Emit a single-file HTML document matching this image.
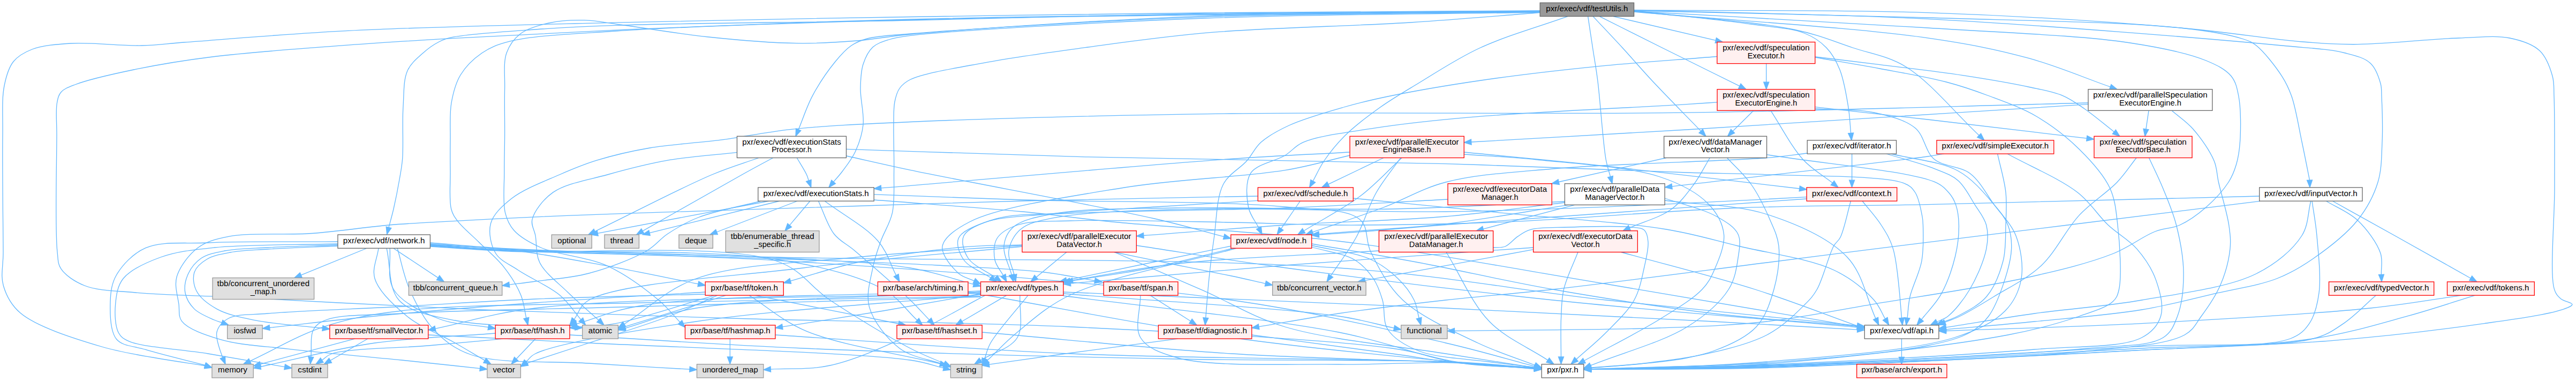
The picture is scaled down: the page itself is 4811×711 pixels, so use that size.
<!DOCTYPE html><html><head><meta charset="utf-8"><style>html,body{margin:0;padding:0;background:#fff;width:4811px;height:711px;overflow:hidden}svg{display:block}text{font-family:"Liberation Sans",sans-serif;font-size:13.9px;fill:#000}</style></head><body>
<svg width="4811" height="711" viewBox="0 0 4811 711">
<g fill="none" stroke="#63b8ff" stroke-width="1.3">
<path d="M3013.0,30.6L3204.4,75.4"/>
<path d="M2987.4,30.6C3026.3,50.1 3063.0,68.6 3104.0,89.0C3149.7,111.7 3200.6,136.8 3248.9,160.7"/>
<path d="M2975.2,30.6C2993.5,50.1 3011.8,69.2 3030.0,89.0C3048.4,109.0 3064.1,127.6 3085.0,150.0C3111.4,178.3 3146.1,213.1 3176.6,244.6"/>
<path d="M2965.7,30.6C2968.6,50.1 2971.5,69.3 2974.5,89.0C2977.5,109.1 2980.6,125.2 2983.8,150.0C2988.8,188.5 2993.6,266.9 2999.3,298.0C3002.0,312.6 3004.8,319.1 3007.6,329.6"/>
<path d="M2927.8,30.6C2873.1,50.2 2812.8,66.8 2763.8,89.5C2720.9,109.3 2681.6,135.8 2648.0,156.0C2621.6,171.9 2600.5,184.0 2578.0,200.0C2555.3,216.1 2530.8,234.5 2512.5,252.5C2496.8,268.0 2483.5,284.6 2473.0,300.0C2464.2,312.9 2459.1,325.2 2452.2,337.9"/>
<path d="M3051.6,20.0C3124.4,28.3 3211.3,36.7 3270.0,45.0C3309.9,50.7 3344.7,52.0 3370.0,62.0C3387.6,68.9 3400.0,77.6 3411.0,89.0C3421.9,100.3 3429.5,113.9 3436.0,130.0C3444.0,149.7 3448.5,178.7 3452.0,200.0C3454.8,217.5 3455.1,232.3 3456.7,248.5"/>
<path d="M3051.6,21.0C3151.1,32.3 3275.4,39.4 3350.0,55.0C3396.2,64.7 3424.3,77.1 3460.0,89.0C3494.3,100.5 3526.3,104.4 3560.0,125.0C3604.7,152.4 3650.8,210.1 3696.2,252.7"/>
<path d="M3051.6,22.0C3234.4,38.3 3465.2,51.5 3600.0,70.9C3679.8,82.4 3729.9,92.5 3789.0,108.7C3843.0,123.5 3890.5,144.4 3941.3,162.2"/>
<path d="M3051.6,20.0C3234.4,24.3 3424.1,27.4 3600.0,33.0C3763.3,38.2 3967.4,40.6 4072.0,52.0C4124.7,57.7 4165.9,65.0 4190.0,73.0C4201.4,76.8 4205.4,78.2 4214.0,85.0C4228.2,96.3 4250.0,124.1 4261.5,141.8C4270.2,155.2 4274.5,164.4 4280.0,180.0C4287.8,202.3 4293.2,237.5 4299.0,264.5C4304.3,289.4 4308.7,312.3 4313.5,336.2"/>
<path d="M2876.2,20.0C2667.5,21.3 2452.0,22.0 2250.0,24.0C2060.7,25.9 1883.3,28.5 1700.0,31.5C1516.7,34.5 1329.0,37.6 1150.0,42.1C979.4,46.4 796.2,50.0 650.0,57.4C535.5,63.2 412.7,74.0 344.0,79.0C309.1,81.6 294.8,84.3 265.0,85.0C226.4,85.9 169.5,78.7 132.0,81.0C104.3,82.7 79.1,84.7 60.0,92.0C45.5,97.6 33.6,104.3 25.0,115.0C15.8,126.5 11.6,142.0 8.0,160.0C3.0,184.9 5.5,214.8 5.0,252.0C4.2,309.2 5.8,419.2 6.0,470.0C6.1,497.3 0.8,513.8 6.3,533.0C11.7,551.7 19.9,568.6 38.0,584.0C68.0,609.5 135.6,630.9 190.0,647.0C248.8,664.4 364.8,678.9 379.5,682.0C381.4,682.4 381.7,682.5 382.8,682.8"/>
<path d="M2876.2,21.0C2667.5,22.8 2452.0,23.9 2250.0,26.5C2060.7,29.0 1883.3,31.1 1700.0,36.0C1516.6,40.9 1306.6,49.3 1150.0,56.1C1033.1,61.2 934.4,66.4 844.0,71.6C772.0,75.8 718.9,79.0 650.0,84.2C571.2,90.2 469.8,96.9 397.0,106.0C341.2,112.9 295.3,120.6 250.0,130.0C210.5,138.2 163.6,148.8 140.0,158.0C127.9,162.7 119.6,165.6 114.0,172.0C109.3,177.4 108.1,183.4 106.5,192.0C103.8,206.5 106.0,225.8 106.0,252.0C105.9,302.0 102.5,430.1 107.0,470.0C108.7,485.4 107.7,492.1 114.0,501.6C122.1,513.8 139.4,525.6 158.0,533.0C182.7,542.8 215.8,542.6 253.0,546.0C305.4,550.8 379.7,551.8 443.0,555.0C506.2,558.2 563.9,561.5 632.5,565.0C714.0,569.1 797.0,573.7 900.0,578.0C1040.8,583.8 1225.7,589.9 1400.0,595.0C1590.9,600.6 1800.1,600.8 2000.0,610.0C2200.1,619.2 2476.8,633.1 2600.0,650.0C2655.6,657.6 2677.9,669.1 2720.0,675.1C2766.0,681.6 2817.2,682.4 2865.7,686.1"/>
<path d="M2876.2,20.5C2667.5,22.1 2452.0,22.1 2250.0,25.2C2060.7,28.1 1883.3,34.3 1700.0,38.0C1516.7,41.7 1275.8,43.0 1150.0,47.3C1084.3,49.5 1050.5,51.3 1000.0,55.0C948.5,58.7 873.1,63.4 844.0,69.7C832.3,72.2 828.1,73.8 820.0,78.0C810.2,83.0 799.4,90.5 790.0,99.0C779.7,108.3 767.3,117.9 761.0,132.0C753.2,149.3 754.6,173.8 753.0,198.0C751.0,227.4 753.7,270.8 751.7,296.0C750.4,312.0 748.4,320.9 746.0,335.0C743.1,351.8 738.7,373.9 735.0,390.0C732.0,402.9 729.0,413.0 726.0,424.4"/>
<path d="M2876.2,21.5C2667.5,23.6 2452.0,25.1 2250.0,27.8C2060.7,30.3 1883.3,32.0 1700.0,37.0C1516.6,42.0 1287.6,48.7 1150.0,58.0C1067.1,63.6 995.0,66.2 951.0,77.4C927.8,83.3 915.1,88.7 900.0,99.0C884.7,109.5 869.5,124.3 860.0,140.0C850.7,155.4 846.3,173.3 843.0,192.0C839.4,212.9 841.3,238.0 841.0,260.0C840.7,280.6 840.7,299.2 841.0,320.0C841.3,342.4 838.4,373.4 842.7,390.0C845.3,400.0 848.7,404.5 854.7,412.6C863.5,424.4 880.3,437.9 894.0,451.5C909.1,466.5 928.0,481.7 941.4,498.8C954.2,515.1 966.1,534.2 973.0,551.3C978.8,565.7 979.6,579.4 982.9,593.5"/>
<path d="M2876.2,22.0C2667.5,24.6 2451.9,22.3 2250.0,29.8C2060.6,36.9 1809.1,54.0 1700.0,64.0C1653.6,68.3 1635.1,73.2 1601.0,76.0C1564.6,79.0 1529.2,81.3 1488.0,80.7C1438.2,80.0 1377.9,74.8 1323.0,69.0C1267.8,63.2 1200.4,51.6 1157.6,46.0C1130.5,42.4 1113.2,38.2 1091.0,37.7C1069.0,37.2 1045.5,38.4 1025.0,43.0C1006.0,47.2 985.5,52.7 972.0,63.0C960.1,72.1 951.2,84.3 946.0,99.0C939.7,117.0 943.2,141.5 942.6,165.0C941.9,192.0 942.8,224.8 942.6,252.0C942.5,276.1 941.7,296.6 941.8,320.0C942.0,345.0 938.7,377.8 943.7,397.7C947.1,411.3 951.2,420.3 960.0,430.0C971.2,442.4 988.7,452.5 1010.0,462.0C1041.5,476.0 1097.2,479.2 1134.7,496.4C1170.0,512.6 1205.8,539.8 1230.0,560.0C1247.2,574.3 1256.7,587.5 1270.1,601.3"/>
<path d="M2876.2,22.5C2667.5,25.5 2451.9,24.4 2250.0,31.6C2060.6,38.4 1801.2,54.4 1700.0,63.0C1661.3,66.3 1640.0,66.7 1620.0,72.0C1607.3,75.4 1599.4,78.6 1590.0,85.0C1579.3,92.3 1570.2,102.5 1560.0,115.0C1546.3,131.7 1529.2,156.8 1517.5,178.6C1506.5,199.2 1500.0,220.8 1491.2,241.8"/>
<path d="M2876.2,23.0C2667.5,26.7 2451.9,26.3 2250.0,34.0C2060.6,41.2 1777.7,56.8 1700.0,66.4C1678.9,69.0 1672.2,70.1 1660.0,74.0C1649.0,77.5 1637.9,80.7 1630.0,88.0C1621.7,95.7 1615.9,108.0 1612.0,120.0C1607.7,133.3 1607.3,148.4 1607.0,165.0C1606.6,185.3 1614.2,212.3 1612.0,233.0C1610.1,251.0 1604.4,267.8 1597.5,282.7C1591.1,296.6 1580.6,309.8 1573.0,320.0C1567.3,327.7 1562.1,332.9 1556.7,339.4"/>
<path d="M2876.2,23.5C2795.5,29.7 2723.5,36.3 2634.0,42.0C2522.9,49.0 2369.8,51.4 2260.0,60.7C2173.0,68.1 2100.3,78.8 2027.0,88.7C1961.2,97.6 1897.6,106.0 1840.0,116.8C1789.8,126.2 1724.9,136.3 1700.0,148.5C1689.4,153.7 1684.8,158.1 1680.0,165.0C1675.1,171.9 1672.9,180.5 1671.0,190.0C1668.7,201.6 1669.3,214.0 1669.0,230.0C1668.5,254.0 1670.1,291.1 1669.6,320.0C1669.1,346.9 1671.4,374.7 1666.4,397.7C1662.1,417.3 1651.1,432.6 1645.0,450.0C1639.1,466.7 1633.5,481.6 1630.0,500.0C1625.8,521.8 1617.0,549.4 1623.5,572.8C1631.0,599.6 1656.1,632.0 1680.0,650.0C1702.9,667.3 1735.2,670.2 1762.7,680.4"/>
<path d="M3051.6,19.0C3234.4,24.5 3408.8,25.4 3600.0,35.4C3810.3,46.4 4130.4,72.3 4261.5,85.0C4317.1,90.4 4349.9,91.3 4380.0,99.0C4399.6,104.0 4415.9,107.7 4427.0,118.0C4437.2,127.4 4442.8,144.5 4446.0,156.0C4448.4,164.7 4447.5,169.6 4448.0,180.0C4448.9,199.6 4450.3,237.2 4449.0,264.5C4447.8,290.4 4448.4,315.9 4441.0,340.0C4433.4,364.8 4420.8,388.8 4403.0,411.0C4382.3,436.9 4347.3,463.8 4320.0,482.7C4297.1,498.6 4278.1,509.9 4252.0,520.0C4220.4,532.2 4181.1,537.7 4142.0,546.7C4097.7,556.9 4051.6,569.5 4000.0,578.0C3939.3,588.0 3863.5,593.7 3800.0,600.0C3742.2,605.8 3689.6,609.9 3634.4,614.8"/>
<path d="M3051.6,21.0C3234.4,31.3 3434.2,41.2 3600.0,52.0C3737.7,61.0 3882.7,65.5 3978.0,80.0C4037.1,89.0 4086.2,99.1 4120.0,113.0C4140.8,121.6 4156.8,129.6 4167.0,142.0C4175.7,152.6 4178.0,164.5 4181.0,180.0C4185.3,202.3 4185.1,241.2 4183.5,264.5C4182.4,281.1 4180.4,294.0 4176.5,307.0C4173.0,318.9 4169.3,328.6 4162.0,340.0C4152.3,355.0 4135.3,373.5 4119.8,387.0C4104.9,400.0 4087.7,412.4 4071.0,420.0C4056.0,426.8 4042.0,425.4 4025.0,432.0C4001.7,441.0 3977.7,460.9 3946.0,473.5C3902.6,490.7 3847.1,504.2 3785.6,518.0C3704.4,536.2 3586.8,552.7 3500.0,567.3C3427.4,579.5 3366.9,592.5 3300.0,600.0C3233.5,607.4 3177.5,609.1 3100.0,612.0C2992.8,616.0 2844.3,615.7 2716.5,617.5"/>
<path d="M3051.6,19.0C3234.4,20.5 3424.1,17.6 3600.0,23.6C3763.3,29.2 3943.1,40.8 4072.0,52.0C4161.8,59.8 4238.8,73.1 4300.0,78.0C4341.0,81.3 4363.5,83.0 4403.0,82.7C4456.5,82.3 4539.7,72.6 4592.0,71.0C4629.0,69.9 4660.0,65.6 4687.0,71.0C4708.6,75.4 4729.6,82.0 4743.0,94.5C4755.6,106.2 4762.7,126.6 4767.0,142.0C4770.6,155.0 4769.3,162.8 4770.0,180.0C4771.5,216.4 4770.9,291.8 4771.0,350.0C4771.1,411.5 4761.5,510.5 4770.4,539.6C4773.4,549.4 4777.1,552.7 4782.5,557.4C4788.2,562.3 4804.0,564.5 4804.0,568.0C4804.0,571.6 4793.2,575.2 4782.5,578.7C4756.3,587.3 4695.8,595.6 4640.0,603.6C4561.6,614.9 4455.9,627.5 4355.7,635.6C4243.9,644.7 4138.4,646.7 4000.0,653.4C3805.8,662.9 3489.8,681.2 3300.0,686.5C3170.1,690.1 3081.0,688.4 2971.5,689.4"/>
<path d="M3298.8,118.6L3298.8,153.2"/>
<path d="M3390.0,106.0C3430.2,110.9 3467.9,115.2 3510.6,120.6C3559.1,126.7 3617.0,133.3 3665.8,140.7C3709.6,147.4 3755.8,155.2 3790.0,162.5C3814.3,167.7 3833.9,170.8 3852.0,178.3C3867.6,184.8 3878.6,193.1 3893.0,203.0C3910.4,214.9 3929.9,231.7 3948.3,246.0"/>
<path d="M3390.0,107.0C3430.2,114.0 3470.2,120.4 3510.6,128.0C3551.7,135.7 3598.5,143.5 3634.8,153.0C3663.8,160.6 3685.4,168.0 3712.0,178.0C3741.3,189.0 3774.6,200.4 3803.0,217.0C3831.8,233.8 3860.2,255.8 3883.5,278.7C3905.5,300.4 3928.2,324.9 3940.0,350.0C3950.5,372.3 3951.9,393.3 3955.0,420.0C3959.0,454.6 3962.9,516.7 3957.4,540.5C3954.9,551.3 3953.1,556.1 3946.0,562.8C3934.3,573.8 3908.9,581.3 3883.8,590.0C3848.0,602.4 3808.2,613.9 3750.0,625.0C3644.6,645.0 3438.4,668.6 3300.0,679.0C3182.1,687.9 3081.0,685.7 2971.5,689.1"/>
<path d="M3206.9,105.5C3130.9,111.8 3053.4,116.7 2978.8,124.3C2906.6,131.6 2833.2,140.1 2766.0,150.0C2705.0,158.9 2639.1,170.2 2592.0,180.0C2559.4,186.8 2538.5,191.7 2509.8,200.0C2477.4,209.3 2435.4,221.2 2407.5,234.0C2386.5,243.7 2368.7,253.4 2355.0,265.6C2343.5,275.9 2339.1,288.2 2328.7,300.0C2316.3,314.2 2294.8,324.3 2284.6,344.0C2271.6,369.0 2272.1,412.0 2267.5,443.0C2263.5,470.2 2260.6,494.6 2258.0,520.0C2255.4,544.7 2253.9,568.8 2251.8,593.1"/>
<path d="M3275.0,206.3L3236.2,244.8"/>
<path d="M4013.0,206.3L4007.9,240.9"/>
<path d="M3899.8,194.7C3649.9,210.5 3361.3,229.3 3150.0,242.0C2995.2,251.3 2881.9,257.4 2747.8,265.0"/>
<path d="M3899.8,192.0C3649.9,198.1 3407.8,206.8 3150.0,210.2C2875.6,213.8 2558.7,208.4 2300.0,212.0C2082.6,215.0 1851.2,220.8 1700.0,227.5C1607.9,231.5 1542.3,234.5 1478.0,241.3C1428.2,246.6 1390.1,255.4 1346.0,261.2C1302.0,267.0 1254.5,269.0 1213.8,276.0C1178.2,282.1 1144.5,290.0 1114.6,299.2C1089.1,307.1 1069.4,315.3 1045.0,326.0C1016.7,338.4 977.8,352.8 955.4,370.5C937.9,384.3 921.3,399.6 916.5,417.0C911.9,433.7 916.7,457.9 925.6,472.5C934.2,486.6 951.1,492.9 967.6,504.0C989.4,518.7 1025.4,533.9 1046.0,551.3C1062.6,565.3 1071.9,581.4 1084.9,596.4"/>
<path d="M4056.0,206.3C4069.3,217.9 4083.6,226.9 4096.0,241.0C4110.3,257.3 4127.3,281.5 4135.0,300.0C4140.9,314.0 4139.9,324.4 4143.4,340.0C4148.4,362.1 4159.4,397.1 4162.7,420.0C4165.1,436.9 4166.6,448.4 4164.9,464.6C4162.8,484.8 4156.0,510.6 4147.0,531.6C4138.1,552.4 4123.6,573.5 4111.3,590.0C4101.1,603.7 4097.2,615.6 4080.0,625.0C4046.2,643.6 3977.9,646.8 3900.0,655.0C3758.8,670.0 3470.1,676.9 3300.0,682.5C3174.2,686.7 3081.0,687.0 2971.5,689.2"/>
<path d="M1488.3,294.5C1494.4,305.0 1502.9,318.1 1506.5,326.0C1508.6,330.5 1509.1,333.3 1510.3,337.0"/>
<path d="M1417.0,294.5C1387.9,305.0 1364.8,311.2 1329.6,326.0C1272.7,350.0 1184.0,396.6 1111.1,431.9"/>
<path d="M1443.7,294.5C1424.4,305.0 1410.5,312.3 1385.8,326.0C1341.4,350.7 1262.1,396.1 1200.2,431.1"/>
<path d="M1376.5,284.3C1333.3,289.3 1288.4,291.9 1247.0,299.2C1207.9,306.1 1170.8,315.8 1134.4,326.0C1099.5,335.8 1057.2,341.8 1033.0,358.9C1014.3,372.1 997.7,393.9 994.0,409.4C991.4,420.2 998.0,428.5 1000.0,440.0C1002.6,454.6 1000.2,474.1 1008.0,490.0C1017.6,509.5 1041.8,527.2 1060.0,545.0C1078.5,563.1 1098.7,580.0 1118.0,597.5"/>
<path d="M1437.0,375.0L1116.3,435.3"/>
<path d="M1456.6,375.0L1213.1,434.6"/>
<path d="M1489.6,375.0L1338.6,433.0"/>
<path d="M1513.0,375.0L1474.7,420.4"/>
<path d="M1421.6,375.0C1382.7,385.2 1336.6,393.1 1305.0,405.5C1281.6,414.6 1263.8,425.2 1246.8,436.5C1232.0,446.3 1225.2,458.0 1208.0,468.0C1181.8,483.2 1135.8,500.5 1100.0,510.0C1066.5,518.9 1027.4,521.2 1000.0,525.0C980.9,527.7 967.5,529.2 951.2,531.3"/>
<path d="M3207.0,190.8C3188.0,192.1 3177.6,192.9 3150.0,194.7C3076.9,199.4 2857.8,209.1 2750.0,218.4C2676.5,224.7 2621.2,230.6 2565.0,239.4C2517.3,246.8 2462.3,253.1 2433.7,265.6C2417.8,272.6 2413.4,281.8 2400.0,290.0C2382.4,300.8 2347.1,305.9 2336.0,322.8C2325.5,338.8 2328.0,368.8 2331.7,387.0C2334.7,401.9 2344.5,412.6 2351.0,425.4"/>
<path d="M2584.0,294.5L2480.8,343.9"/>
<path d="M2428.0,375.5L2392.7,426.7"/>
<path d="M2618.0,294.5C2592.3,318.2 2569.9,343.7 2541.0,365.6C2509.5,389.4 2470.4,409.0 2435.1,430.7"/>
<path d="M2616.0,294.5C2600.7,316.3 2583.5,336.2 2570.0,360.0C2555.6,385.4 2547.2,416.9 2532.8,443.0C2518.9,468.3 2501.2,490.7 2485.5,514.5"/>
<path d="M3375.3,286.0C3350.2,288.8 3335.1,291.6 3300.0,294.5C3219.4,301.1 3010.3,305.3 2900.0,315.0C2821.7,321.9 2756.8,325.2 2700.0,340.0C2655.2,351.7 2624.1,371.9 2584.0,387.0C2541.5,403.0 2495.6,417.9 2451.4,433.3"/>
<path d="M2930.0,382.4C2853.3,394.3 2768.6,410.0 2700.0,418.0C2644.8,424.5 2593.2,426.5 2550.0,430.0C2517.1,432.6 2492.1,434.6 2463.2,436.9"/>
<path d="M2922.4,378.0C2848.3,386.7 2779.8,397.2 2700.0,404.0C2607.6,411.9 2496.8,413.8 2400.0,420.0C2309.1,425.8 2223.9,433.0 2135.9,439.5"/>
<path d="M1581.0,291.0C1620.7,299.8 1647.4,306.3 1700.0,317.4C1802.7,339.0 2050.5,383.9 2156.0,408.0C2212.6,421.0 2242.5,430.4 2285.7,441.6"/>
<path d="M2520.5,284.0C2447.0,288.2 2393.0,290.0 2300.0,296.5C2139.7,307.7 1863.8,332.8 1645.7,350.9"/>
<path d="M2350.0,366.0C2203.5,369.0 2044.3,371.6 1910.5,375.0C1798.0,377.9 1710.8,381.0 1600.0,384.5C1472.5,388.5 1299.2,393.8 1188.5,397.7C1113.6,400.3 1063.8,401.9 1000.0,404.8C934.3,407.7 850.4,412.3 800.0,415.2C769.3,417.0 754.7,417.5 726.0,420.0C686.0,423.5 631.6,431.9 582.8,435.5C532.0,439.2 465.9,433.7 427.0,441.4C402.5,446.2 385.0,450.6 369.0,462.7C352.4,475.3 335.3,498.2 330.0,517.0C325.4,533.5 332.1,553.1 334.0,568.0C335.5,579.8 332.6,590.4 339.7,599.6C350.8,614.1 383.1,625.0 411.0,633.4C446.6,644.1 490.2,645.5 538.0,651.2C599.6,658.5 685.9,665.4 750.0,672.0C803.3,677.5 847.7,682.4 896.5,687.6"/>
<path d="M1632.2,362.8C1724.8,366.2 1804.3,369.7 1910.0,373.0C2050.3,377.4 2286.5,374.8 2400.0,386.0C2461.1,392.0 2515.3,388.8 2540.0,410.0C2556.5,424.1 2549.6,448.7 2560.0,470.0C2573.6,497.8 2591.8,533.7 2620.0,560.0C2654.4,592.1 2715.8,618.9 2760.0,640.0C2797.3,657.8 2831.1,667.7 2866.6,681.5"/>
<path d="M1632.2,373.0C1724.8,380.3 1829.0,387.2 1910.0,395.0C1973.1,401.1 2009.3,407.2 2078.0,414.0C2186.8,424.8 2353.7,432.1 2500.0,450.0C2660.0,469.6 2836.1,502.9 3000.0,530.0C3158.9,556.2 3312.7,583.2 3469.0,609.7"/>
<path d="M2521.0,290.0C2480.7,299.2 2449.6,309.4 2400.0,317.7C2322.6,330.7 2198.6,333.8 2100.0,350.0C2002.3,366.0 1866.1,385.6 1811.0,414.0C1784.4,427.7 1762.5,443.2 1760.0,460.0C1757.7,475.4 1778.2,499.3 1790.0,510.0C1798.8,518.0 1809.6,519.4 1819.3,524.1"/>
<path d="M3112.0,294.5L2911.2,339.5"/>
<path d="M3193.4,294.5C3183.4,311.0 3175.2,328.3 3163.5,344.0C3151.2,360.5 3138.7,378.0 3120.7,391.0C3099.9,406.0 3069.1,413.8 3043.3,425.2"/>
<path d="M3225.5,294.5C3240.5,311.0 3257.5,325.5 3270.5,344.0C3284.1,363.2 3295.8,387.5 3304.7,408.0C3312.3,425.6 3319.9,439.8 3322.0,459.0C3324.6,482.6 3320.2,514.5 3313.0,540.0C3306.0,564.8 3297.5,591.2 3280.0,610.0C3261.0,630.4 3230.4,644.0 3200.0,655.0C3165.0,667.7 3119.1,671.7 3080.0,677.0C3043.0,682.0 3007.6,683.5 2971.4,686.8"/>
<path d="M3458.7,286.8L3458.7,336.2"/>
<path d="M3631.0,286.8C3620.7,288.5 3616.5,289.6 3600.0,292.0C3535.4,301.2 3281.7,329.3 3122.6,347.9"/>
<path d="M2734.3,284.0C2822.9,292.7 2904.7,299.8 3000.0,310.0C3111.1,321.9 3240.5,338.0 3360.8,352.0"/>
<path d="M3307.0,206.3C3327.2,236.9 3345.9,274.4 3367.6,298.0C3384.9,316.8 3404.1,326.9 3422.4,341.3"/>
<path d="M3456.6,375.0C3450.1,397.7 3444.3,428.6 3437.0,443.0C3433.1,450.7 3429.1,451.2 3424.7,459.0C3415.6,475.2 3404.7,520.6 3393.5,540.0C3386.3,552.5 3381.3,557.7 3371.0,568.0C3354.5,584.5 3330.0,609.5 3300.0,625.0C3260.8,645.3 3195.3,658.9 3150.0,668.0C3113.6,675.3 3081.4,676.9 3050.0,680.0C3022.3,682.7 2997.6,684.0 2971.5,686.0"/>
<path d="M3109.2,370.0C3141.5,381.3 3181.6,390.2 3206.0,404.0C3223.3,413.8 3239.6,423.4 3246.0,437.0C3251.9,449.6 3248.3,465.9 3246.0,481.6C3243.3,499.9 3240.3,521.2 3228.4,540.0C3212.9,564.5 3184.5,589.1 3151.0,610.0C3105.2,638.5 3030.7,658.0 2970.5,682.0"/>
<path d="M2941.0,382.4L2770.1,427.3"/>
<path d="M3478.0,375.0C3489.8,390.0 3503.6,404.5 3513.4,420.0C3522.6,434.4 3529.9,445.3 3535.7,464.6C3545.0,495.3 3550.0,578.5 3551.3,590.0C3551.5,591.8 3551.5,592.1 3551.6,593.2"/>
<path d="M1581.0,278.4C1730.0,283.2 1863.9,288.6 2028.0,292.8C2229.2,298.0 2498.4,300.1 2700.0,305.7C2865.0,310.3 3040.2,318.6 3150.0,322.0C3213.4,324.0 3243.5,323.4 3300.0,325.8C3373.7,329.0 3516.5,326.9 3554.4,341.4C3567.1,346.2 3571.0,350.6 3576.7,359.0C3584.0,369.8 3587.8,392.7 3590.0,404.0C3591.3,410.6 3591.3,412.8 3591.5,420.0C3591.9,434.7 3593.0,464.9 3589.0,487.0C3584.9,509.6 3571.3,534.9 3567.0,554.0C3563.9,567.7 3563.3,584.5 3562.5,590.0C3562.3,591.7 3562.2,592.2 3562.0,593.3"/>
<path d="M3299.6,288.6C3403.9,305.5 3565.6,319.2 3612.4,339.2C3627.9,345.8 3633.1,352.2 3640.0,360.0C3645.8,366.6 3649.5,373.0 3652.5,381.6C3656.3,392.3 3658.1,405.9 3658.4,420.0C3658.7,437.3 3656.5,458.0 3651.7,478.0C3646.2,500.9 3636.0,529.6 3625.0,549.4C3616.0,565.6 3599.7,582.4 3593.7,590.0C3591.3,593.0 3590.3,594.1 3588.6,596.2"/>
<path d="M3523.0,287.0C3552.8,296.2 3588.1,304.8 3612.4,314.6C3630.2,321.8 3644.6,326.2 3657.0,337.0C3670.0,348.3 3678.9,367.1 3688.0,381.6C3696.2,394.7 3706.1,406.2 3709.7,420.0C3713.3,433.9 3713.0,448.1 3709.7,464.6C3705.3,486.9 3691.5,518.7 3678.5,540.5C3667.1,559.7 3650.5,580.2 3638.3,590.0C3630.9,595.9 3624.4,597.0 3617.5,600.5"/>
<path d="M3730.6,286.8C3735.7,310.9 3743.6,335.8 3746.0,359.0C3748.2,380.1 3746.8,399.2 3746.0,420.0C3745.2,441.8 3746.7,465.2 3741.0,487.0C3735.0,509.9 3724.6,536.6 3709.7,554.0C3695.7,570.3 3671.3,581.8 3656.0,590.0C3645.6,595.6 3637.5,597.6 3628.3,601.4"/>
<path d="M3532.0,287.0C3573.7,297.7 3623.6,300.7 3657.0,319.0C3685.2,334.4 3707.6,362.4 3724.0,381.6C3735.7,395.2 3744.6,406.1 3750.0,420.0C3755.4,433.8 3757.3,448.3 3756.6,464.6C3755.8,484.7 3748.3,510.4 3741.0,531.6C3734.0,552.1 3725.4,574.6 3714.0,590.0C3704.4,602.9 3694.8,611.6 3680.0,620.0C3659.8,631.4 3635.7,637.6 3600.0,645.0C3532.4,659.0 3402.4,669.7 3300.0,677.0C3193.1,684.6 3081.0,685.0 2971.5,689.0"/>
<path d="M3748.5,286.8C3792.3,310.9 3846.6,333.1 3880.0,359.0C3904.9,378.3 3917.9,401.8 3937.3,420.0C3955.0,436.6 3976.1,447.4 3991.0,464.6C4005.7,481.6 4019.1,501.7 4026.5,522.6C4033.9,543.5 4041.2,571.5 4035.5,590.0C4030.5,606.4 4019.5,619.9 4000.0,630.0C3962.2,649.6 3881.8,645.2 3800.0,652.0C3671.0,662.8 3449.3,674.3 3300.0,680.5C3179.1,685.5 3081.0,686.3 2971.5,689.1"/>
<path d="M4013.5,294.5C4022.0,313.0 4030.9,330.3 4039.0,350.0C4048.0,371.8 4058.1,394.9 4064.5,420.0C4071.5,447.6 4077.8,480.0 4078.0,509.0C4078.2,536.6 4074.9,568.4 4066.7,590.0C4060.4,606.5 4055.6,620.1 4040.0,630.0C4013.2,646.9 3963.1,643.8 3900.0,650.0C3769.9,662.7 3470.1,675.0 3300.0,681.5C3174.2,686.3 3081.0,686.6 2971.5,689.2"/>
<path d="M3990.0,294.5C3978.0,309.7 3968.9,324.4 3954.0,340.0C3935.1,359.8 3905.9,377.4 3883.5,401.4C3858.3,428.4 3839.7,470.1 3812.0,495.9C3785.8,520.4 3750.3,537.3 3723.0,554.0C3700.6,567.8 3677.5,581.7 3660.6,590.0C3649.6,595.4 3641.9,597.7 3632.5,601.5"/>
<path d="M4315.8,375.0C4310.1,396.7 4311.7,419.8 4298.8,440.0C4282.2,466.0 4251.1,492.3 4213.4,511.0C4160.5,537.2 4070.3,547.6 4000.0,560.0C3932.6,571.9 3863.5,576.1 3800.0,585.0C3742.1,593.1 3689.6,602.3 3634.3,610.9"/>
<path d="M4318.0,375.0C4321.0,396.7 4324.9,415.6 4327.0,440.0C4329.7,471.1 4335.0,517.0 4331.0,546.7C4328.0,568.9 4323.0,589.0 4313.0,603.6C4304.2,616.4 4296.6,624.7 4277.4,632.0C4229.9,650.0 4113.5,640.4 4000.0,646.3C3819.7,655.7 3489.8,676.8 3300.0,683.5C3170.1,688.1 3081.0,687.3 2971.5,689.3"/>
<path d="M4344.0,375.0C4363.7,387.0 4386.2,395.3 4403.0,411.0C4420.4,427.4 4439.3,453.1 4445.8,472.3C4450.5,486.3 4446.9,499.0 4447.4,512.3"/>
<path d="M4356.0,375.0C4395.0,396.7 4432.2,417.2 4473.0,440.0C4517.9,465.1 4567.2,492.8 4614.2,519.2"/>
<path d="M4622.5,551.1C4581.0,563.9 4543.4,577.0 4498.0,589.4C4444.2,604.1 4388.5,621.6 4320.0,632.0C4229.4,645.8 4127.3,646.2 4000.0,653.4C3811.8,664.0 3489.8,680.0 3300.0,685.5C3170.1,689.2 3081.0,688.1 2971.5,689.3"/>
<path d="M4597.6,551.1C4540.7,559.1 4496.8,567.8 4427.0,575.0C4316.9,586.4 4136.9,596.4 4000.0,603.6C3873.5,610.2 3756.3,612.9 3634.5,617.5"/>
<path d="M4437.5,551.1C4417.3,568.6 4397.8,589.7 4377.0,603.6C4358.5,616.0 4347.8,624.6 4320.0,632.0C4257.6,648.5 4127.3,643.3 4000.0,650.0C3811.8,659.9 3489.8,678.4 3300.0,684.5C3170.1,688.7 3081.0,687.7 2971.5,689.3"/>
<path d="M4220.0,366.0C4013.3,371.2 3777.9,377.8 3600.0,381.6C3465.6,384.5 3370.8,383.2 3246.0,388.0C3105.9,393.4 2934.0,409.4 2800.0,414.6C2690.2,418.9 2589.9,420.3 2500.0,420.0C2426.6,419.7 2373.4,416.3 2300.0,415.0C2210.1,413.4 2073.2,409.4 2000.0,412.0C1957.7,413.5 1924.7,411.5 1900.0,420.0C1883.4,425.7 1868.9,433.7 1862.0,445.0C1855.5,455.7 1855.6,473.1 1858.0,485.0C1860.2,495.8 1868.4,504.3 1873.6,513.9"/>
<path d="M4221.0,375.4C4101.1,390.3 3981.4,405.2 3861.4,420.0C3741.1,434.9 3602.8,451.7 3500.0,464.6C3423.5,474.2 3378.1,480.2 3300.0,490.0C3189.5,503.9 3010.5,527.6 2900.0,540.0C2822.0,548.8 2766.6,552.5 2700.0,560.0C2633.3,567.5 2561.7,576.0 2500.0,585.0C2446.6,592.8 2400.7,601.5 2351.1,609.8"/>
<path d="M3551.5,632.2L3551.5,666.5"/>
<path d="M1991.9,470.5L1935.4,517.2"/>
<path d="M2081.0,470.5C2120.7,478.7 2162.0,487.3 2200.0,495.0C2234.8,502.1 2270.5,508.8 2300.0,515.0C2323.6,520.0 2342.3,524.4 2363.4,529.1"/>
<path d="M2081.0,470.5C2136.0,494.2 2192.0,518.0 2246.0,541.6C2298.3,564.5 2338.8,591.6 2400.0,610.0C2482.2,634.7 2614.7,646.2 2700.0,660.0C2763.4,670.2 2810.6,677.3 2865.9,685.9"/>
<path d="M2122.4,458.0C2208.3,471.0 2279.1,483.3 2380.0,497.0C2523.1,516.5 2722.6,541.3 2900.0,560.0C3085.2,579.5 3279.2,593.9 3468.9,610.8"/>
<path d="M2299.8,459.0C2249.9,469.3 2200.6,479.5 2150.0,490.0C2098.0,500.8 2044.5,512.0 1991.7,523.0"/>
<path d="M2304.0,463.0C2252.7,475.3 2200.9,489.8 2150.0,500.0C2100.7,509.9 2052.2,515.9 2003.3,523.8"/>
<path d="M2310.0,463.0C2206.7,492.0 2072.9,515.5 2000.0,550.0C1955.1,571.2 1927.9,597.3 1900.0,620.0C1877.8,638.0 1862.6,655.2 1843.8,672.8"/>
<path d="M2449.7,458.0C2486.0,466.5 2529.8,470.7 2558.6,483.5C2580.4,493.2 2596.8,506.3 2611.0,520.0C2623.6,532.1 2634.5,546.6 2641.0,560.0C2646.5,571.2 2647.1,582.4 2650.2,593.6"/>
<path d="M2449.7,455.0C2516.5,466.7 2579.6,476.8 2650.0,490.0C2728.8,504.8 2812.7,524.7 2900.0,540.0C2995.3,556.7 3102.6,573.4 3200.0,585.0C3291.9,596.0 3379.2,600.9 3468.9,608.8"/>
<path d="M2449.7,461.0C2476.5,469.0 2509.8,472.9 2530.0,485.0C2545.5,494.3 2556.2,507.0 2565.0,520.0C2573.2,532.2 2577.6,545.3 2582.0,560.0C2587.0,576.6 2582.1,599.7 2592.0,615.0C2603.1,632.2 2625.4,645.2 2650.0,655.0C2683.6,668.3 2741.1,669.7 2780.0,675.0C2811.5,679.3 2837.2,681.9 2865.8,685.4"/>
<path d="M2575.4,468.0C2450.3,476.0 2305.6,480.3 2200.0,492.0C2122.2,500.6 2065.6,513.3 1998.3,523.9"/>
<path d="M2701.0,470.5C2727.9,513.7 2748.4,565.8 2781.7,600.0C2812.5,631.7 2854.4,648.0 2890.7,672.1"/>
<path d="M2863.7,465.7L2549.3,523.4"/>
<path d="M2863.7,462.0C2709.1,473.0 2548.9,483.4 2400.0,495.0C2261.6,505.8 2133.0,517.6 1999.5,528.9"/>
<path d="M2947.0,470.5C2938.2,493.7 2925.6,517.8 2920.5,540.0C2916.1,559.1 2916.4,575.5 2915.5,595.0C2914.5,617.1 2915.5,642.3 2915.5,666.0"/>
<path d="M3027.6,470.5C3110.9,493.7 3200.1,515.5 3277.5,540.0C3346.1,561.8 3405.6,585.6 3469.6,608.5"/>
<path d="M2148.0,551.1L2223.6,599.3"/>
<path d="M2130.0,551.1C2130.0,577.4 2118.4,610.5 2130.0,630.0C2141.6,649.6 2167.1,658.9 2200.0,668.0C2263.9,685.6 2407.7,678.8 2500.0,680.0C2579.0,681.0 2654.2,674.9 2720.0,676.9C2773.6,678.5 2817.2,684.2 2865.7,687.9"/>
<path d="M1880.0,551.1L1796.7,599.8"/>
<path d="M1905.0,551.1C1903.3,577.4 1912.1,609.8 1900.0,630.0C1887.8,650.4 1854.3,658.3 1831.5,672.4"/>
<path d="M1986.0,548.0C2157.3,562.0 2394.1,574.4 2500.0,590.0C2548.0,597.1 2569.1,604.8 2603.6,612.2"/>
<path d="M1986.0,552.0C2157.3,574.7 2365.1,593.9 2500.0,620.0C2589.3,637.3 2653.8,665.4 2720.0,676.3C2773.1,685.0 2817.2,683.6 2865.7,687.3"/>
<path d="M1986.0,545.0C2224.0,555.0 2483.2,565.0 2700.0,575.0C2881.5,583.3 3059.0,592.5 3200.0,600.0C3303.4,605.5 3379.2,610.2 3468.8,615.2"/>
<path d="M2200.0,632.2C2130.0,641.5 2053.2,651.4 1990.0,660.0C1937.9,667.1 1894.9,673.4 1847.4,680.1"/>
<path d="M2337.8,625.0C2425.2,636.7 2529.5,650.3 2600.0,660.0C2647.7,666.5 2678.0,672.4 2720.0,676.9C2766.1,681.9 2817.2,684.2 2865.7,687.9"/>
<path d="M1834.2,620.0C1989.5,633.3 2148.6,650.4 2300.0,660.0C2443.5,669.1 2616.2,671.3 2720.0,677.4C2781.2,681.0 2817.2,684.7 2865.7,688.4"/>
<path d="M1808.0,545.0C1972.0,573.3 2142.1,607.8 2300.0,630.0C2445.2,650.4 2616.1,666.1 2720.0,675.7C2781.1,681.3 2817.2,683.0 2865.7,686.7"/>
<path d="M1540.0,375.0C1573.3,400.0 1617.2,423.3 1640.0,450.0C1657.3,470.3 1662.5,492.6 1673.7,513.9"/>
<path d="M631.3,451.0C550.4,451.7 454.7,450.0 388.5,453.0C342.6,455.1 301.9,449.5 272.0,462.7C248.2,473.2 228.4,494.5 217.6,513.0C208.6,528.4 206.6,544.9 206.0,563.0C205.3,584.3 205.2,618.2 217.6,633.0C228.8,646.4 250.5,645.8 272.0,652.4C302.3,661.8 346.1,671.8 383.2,681.5"/>
<path d="M631.3,455.0C554.2,457.3 461.0,455.6 400.0,462.0C359.6,466.2 329.6,469.3 300.0,480.0C273.7,489.6 243.7,502.8 230.0,520.0C219.2,533.6 217.1,551.4 215.6,568.0C214.0,585.1 215.0,609.3 221.4,621.0C225.8,629.1 230.4,632.1 240.9,636.8C266.5,648.2 339.7,652.0 388.5,660.0C436.6,667.9 484.0,676.5 531.7,684.7"/>
<path d="M631.3,457.0C587.5,458.7 538.4,459.8 500.0,462.0C470.0,463.7 442.6,463.7 420.0,468.0C402.8,471.3 387.4,473.9 375.6,482.0C364.6,489.6 355.2,502.2 350.4,513.6C346.0,524.0 343.9,536.5 346.0,547.0C348.1,557.5 354.8,568.5 363.0,576.6C372.2,585.6 390.4,592.7 400.0,597.0C405.7,599.6 409.5,600.4 414.3,602.1"/>
<path d="M631.3,459.0C587.5,461.0 536.9,462.6 500.0,465.0C473.0,466.8 450.5,467.1 430.0,471.0C413.5,474.1 397.6,476.9 386.0,484.0C376.1,490.0 366.3,498.4 363.0,508.0C359.7,517.9 361.5,532.4 367.0,543.0C373.6,555.7 389.2,567.8 405.0,576.6C424.1,587.2 448.7,592.0 476.0,597.6C511.8,604.9 560.3,607.5 602.4,612.4"/>
<path d="M685.7,463.0L562.2,513.4"/>
<path d="M734.3,463.0L818.1,518.4"/>
<path d="M707.0,463.0C704.7,482.0 694.3,501.3 700.0,520.0C707.2,543.7 735.9,570.3 760.0,590.0C785.4,610.8 823.7,625.0 850.0,640.0C870.8,651.9 886.9,661.8 905.4,672.6"/>
<path d="M722.0,463.0C729.7,495.3 725.0,537.6 745.0,560.0C766.2,583.7 807.7,589.3 850.0,598.0C910.0,610.4 999.5,606.8 1074.2,611.2"/>
<path d="M803.4,456.7C852.3,459.8 898.5,460.1 950.0,466.0C1008.2,472.6 1074.6,485.5 1134.7,496.4C1192.4,506.9 1247.5,518.7 1304.0,529.9"/>
<path d="M803.4,455.0C852.3,458.3 886.6,461.8 950.0,465.0C1067.1,470.9 1312.0,473.6 1450.0,481.0C1547.7,486.3 1632.5,488.8 1700.0,500.0C1747.2,507.8 1779.0,520.4 1818.4,530.6"/>
<path d="M803.4,458.0C852.3,461.0 886.6,464.0 950.0,467.0C1067.1,472.6 1321.8,464.2 1450.0,484.0C1532.6,496.8 1604.0,514.5 1650.0,540.0C1679.4,556.3 1691.9,578.3 1712.8,597.5"/>
<path d="M803.4,460.0C852.3,463.0 886.6,465.9 950.0,469.0C1067.1,474.7 1349.9,452.3 1450.0,487.0C1499.8,504.2 1512.7,535.3 1550.0,560.0C1594.4,589.4 1660.0,629.2 1700.0,650.0C1725.2,663.2 1742.5,669.0 1763.7,678.5"/>
<path d="M803.4,453.0C852.3,456.7 886.6,460.6 950.0,464.0C1067.0,470.3 1252.7,475.0 1450.0,480.0C1735.8,487.3 2214.6,480.2 2500.0,500.0C2697.6,513.7 2835.9,541.8 3000.0,560.0C3158.7,577.6 3312.6,591.8 3468.9,607.6"/>
<path d="M803.4,459.0C852.3,462.0 886.6,464.9 950.0,468.0C1067.1,473.7 1261.5,474.4 1450.0,486.0C1696.1,501.1 2070.2,527.1 2300.0,560.0C2458.9,582.7 2595.8,615.9 2700.0,640.0C2767.6,655.6 2810.8,669.1 2866.1,683.7"/>
<path d="M1528.4,375.0C1538.1,395.5 1545.0,420.4 1557.6,436.5C1568.4,450.3 1580.5,454.5 1596.4,468.0C1622.8,490.4 1674.8,535.8 1700.0,560.0C1715.3,574.7 1723.7,584.6 1735.6,596.9"/>
<path d="M1909.0,456.8C1872.7,458.2 1841.7,457.2 1800.0,461.0C1743.3,466.2 1658.4,477.7 1600.0,490.0C1553.5,499.8 1517.5,512.9 1476.3,524.4"/>
<path d="M1335.0,551.1C1273.3,568.6 1197.8,594.6 1150.0,603.6C1120.6,609.2 1101.6,608.3 1077.4,610.7"/>
<path d="M1356.0,551.1L1167.3,609.6"/>
<path d="M1399.0,551.1C1434.6,573.3 1460.8,598.9 1505.7,617.8C1570.0,644.9 1672.5,658.5 1755.9,678.8"/>
<path d="M1410.0,551.1L1678.3,604.0"/>
<path d="M1340.0,551.1C1310.0,564.1 1284.1,577.0 1250.0,590.0C1206.7,606.6 1146.8,624.6 1100.0,640.0C1059.0,653.5 1022.9,665.1 984.3,677.7"/>
<path d="M1363.4,632.2L1363.4,666.0"/>
<path d="M1831.5,548.0C1771.0,558.7 1711.1,569.8 1650.0,580.0C1587.8,590.4 1524.2,599.9 1461.3,609.9"/>
<path d="M1840.0,551.1C1793.3,575.7 1748.2,603.2 1700.0,625.0C1651.5,646.9 1596.9,671.8 1550.0,682.0C1511.0,690.5 1476.2,686.8 1439.3,689.1"/>
<path d="M1831.5,545.0C1654.3,555.0 1417.3,555.4 1300.0,575.0C1240.3,585.0 1211.7,599.9 1167.5,612.3"/>
<path d="M1831.5,543.0C1621.0,552.0 1328.2,549.6 1200.0,570.0C1142.4,579.2 1118.0,592.9 1077.0,604.4"/>
<path d="M1831.5,547.0C1554.3,556.3 1177.7,554.0 1000.0,575.0C914.9,585.1 875.4,600.5 813.0,613.3"/>
<path d="M1831.5,550.0C1654.3,566.7 1451.5,577.8 1300.0,600.0C1185.3,616.8 1038.1,641.3 1000.0,660.0C989.5,665.1 988.4,670.1 982.6,675.1"/>
<path d="M1920.0,551.1C1896.7,580.7 1862.7,617.6 1850.0,640.0C1843.3,651.8 1842.6,659.6 1838.9,669.4"/>
<path d="M1000.0,632.2L964.3,669.7"/>
<path d="M662.8,632.2L486.3,679.5"/>
<path d="M686.6,632.2L617.0,672.7"/>
<path d="M1064.0,625.0C1209.3,633.3 1337.5,643.0 1500.0,650.0C1705.8,658.8 1984.0,665.7 2200.0,670.0C2386.2,673.7 2600.1,670.5 2720.0,675.7C2783.6,678.4 2817.2,683.0 2865.7,686.7"/>
<path d="M1448.0,625.0C1632.0,636.7 1803.7,651.6 2000.0,660.0C2224.0,669.6 2571.1,669.0 2720.0,676.3C2787.1,679.6 2817.2,683.6 2865.7,687.3"/>
<path d="M799.8,625.0C899.9,630.0 982.8,633.9 1100.0,640.0C1265.7,648.6 1602.8,657.9 1700.0,672.0C1731.7,676.6 1741.5,681.9 1762.3,686.9"/>
<path d="M925.2,622.0C850.1,628.0 773.7,629.5 700.0,640.0C627.6,650.4 557.7,669.5 486.5,684.3"/>
<path d="M940.0,632.2C893.3,636.5 849.6,640.7 800.0,645.0C743.8,649.9 648.7,650.2 620.0,660.0C609.9,663.5 607.5,668.1 601.3,672.1"/>
<path d="M2349.3,374.3C2285.9,378.2 2223.9,381.8 2159.0,386.0C2091.0,390.4 2008.7,394.1 1950.0,400.0C1907.1,404.3 1867.7,404.8 1839.0,415.0C1818.4,422.3 1795.4,431.9 1790.0,445.0C1785.5,456.1 1791.9,473.5 1800.0,485.0C1809.8,498.9 1833.5,507.2 1850.3,518.3"/>
<path d="M2704.0,372.0C2602.7,377.3 2508.3,383.8 2400.0,388.0C2275.8,392.8 2098.7,393.2 2000.0,398.0C1941.8,400.8 1897.6,397.8 1861.5,408.0C1836.0,415.2 1807.1,425.4 1800.0,440.0C1794.5,451.4 1800.2,469.4 1808.0,481.5C1817.5,496.3 1842.3,505.8 1859.5,518.0"/>
<path d="M2922.4,376.0C2814.9,380.7 2713.5,387.8 2600.0,390.0C2472.9,392.4 2310.8,385.7 2196.0,388.0C2110.7,389.7 2028.3,388.2 1973.0,398.0C1939.1,404.0 1908.8,409.8 1892.8,423.5C1881.8,432.9 1876.4,445.7 1875.0,459.0C1873.4,474.8 1884.5,494.8 1889.3,512.8"/>
<path d="M3374.2,367.7C3275.5,372.7 3182.8,378.3 3078.0,382.7C2959.7,387.6 2832.1,393.6 2700.0,395.0C2554.4,396.6 2373.3,386.8 2240.8,390.0C2139.5,392.4 2032.0,394.3 1973.0,405.7C1942.7,411.5 1921.0,415.5 1906.0,428.0C1893.9,438.1 1886.0,453.9 1884.0,468.0C1882.0,482.1 1890.7,497.8 1894.0,512.6"/>
<path d="M3374.2,371.0C3216.1,382.3 3028.1,395.8 2900.0,405.0C2812.8,411.3 2743.7,416.0 2680.0,421.0C2631.0,424.9 2589.0,429.0 2550.0,432.0C2518.2,434.5 2492.1,436.0 2463.2,438.1"/>
<path d="M2734.3,288.0C2779.5,291.3 2818.9,292.6 2870.0,298.0C2936.7,305.1 3042.3,310.7 3100.0,330.0C3138.4,342.8 3169.8,359.2 3190.0,380.0C3205.9,396.4 3217.3,416.8 3219.5,437.0C3221.8,458.0 3209.6,485.6 3201.6,504.0C3195.3,518.4 3190.5,527.9 3179.0,540.0C3161.8,558.1 3131.5,576.0 3101.0,595.0C3061.2,619.8 3006.2,647.0 2958.8,673.0"/>
<path d="M3109.2,374.0C3172.8,382.7 3241.8,381.2 3300.0,400.0C3354.7,417.7 3415.8,443.9 3450.0,480.0C3479.4,511.1 3485.4,556.2 3503.1,594.4"/>
<path d="M2527.3,370.0C2618.2,378.9 2706.0,387.5 2800.0,396.8C2900.5,406.8 3030.0,414.5 3112.0,428.0C3166.3,437.0 3198.2,447.5 3246.0,459.0C3301.4,472.4 3379.7,482.5 3425.0,504.0C3457.3,519.3 3483.7,541.9 3500.0,560.0C3510.7,571.9 3513.9,583.3 3520.8,595.0"/>
<path d="M3389.7,199.7C3459.8,207.5 3523.9,214.3 3600.0,223.0C3690.6,233.4 3798.2,246.5 3897.3,258.2"/>
<path d="M3389.7,203.0C3426.3,205.3 3466.6,202.9 3499.6,210.0C3528.2,216.1 3558.0,223.2 3577.0,239.0C3594.2,253.3 3595.4,282.8 3612.0,296.8C3629.1,311.3 3660.4,309.5 3679.0,323.5C3697.8,337.7 3709.6,362.0 3724.0,381.6C3738.2,400.9 3756.4,417.8 3765.0,440.0C3774.1,463.6 3779.1,495.8 3775.0,520.0C3771.2,542.1 3761.6,563.0 3745.0,580.0C3724.0,601.5 3693.3,616.3 3650.0,630.0C3571.5,654.8 3415.0,665.2 3300.0,675.0C3189.0,684.5 3081.0,684.3 2971.5,688.9"/>
<path d="M1317.2,549.0C1211.5,552.0 1099.4,553.8 1000.0,558.0C911.7,561.7 833.3,567.5 750.0,572.0C666.7,576.5 558.4,579.9 500.0,585.0C468.3,587.8 443.3,585.3 427.0,594.0C416.0,599.9 407.7,609.0 405.0,619.5C401.9,631.9 413.3,659.7 415.0,665.0C415.4,666.1 415.6,666.4 415.8,667.0"/>
<path d="M1831.5,553.0C1621.0,557.0 1392.7,560.0 1200.0,565.0C1037.3,569.3 858.2,567.2 750.0,580.0C687.9,587.3 651.9,594.2 605.0,609.6C557.4,625.3 512.9,652.4 466.8,673.8"/>
<path d="M1831.5,554.0C1621.0,560.0 1392.7,566.5 1200.0,572.0C1037.3,576.7 857.6,578.9 750.0,585.0C689.7,588.4 635.5,586.7 609.0,597.0C596.9,601.7 590.5,606.0 585.5,615.0C579.0,626.8 582.3,649.0 580.8,666.1"/>
<path d="M1317.2,545.0C1211.5,551.7 1104.2,557.4 1000.0,565.0C898.6,572.4 789.4,581.4 700.0,590.0C627.6,597.0 569.0,604.4 503.5,611.5"/>
<path d="M1909.0,458.0C1806.0,465.3 1702.1,469.6 1600.0,480.0C1499.1,490.3 1377.8,491.8 1300.0,520.0C1243.7,540.4 1210.6,576.5 1165.9,604.8"/>
<path d="M1909.0,460.0C1772.7,473.3 1635.4,483.2 1500.0,500.0C1365.7,516.6 1154.1,528.2 1100.0,560.0C1081.9,570.6 1081.5,583.9 1072.3,595.9"/>
<path d="M2788.7,462.0C2796.1,461.3 2803.9,462.8 2811.0,460.0C2819.2,456.7 2826.4,446.7 2834.5,441.4C2842.1,436.4 2847.6,431.6 2858.0,428.6C2874.9,423.7 2902.3,424.9 2929.0,424.0C2963.3,422.9 3022.6,421.2 3047.0,424.0C3058.1,425.3 3065.8,424.9 3071.0,429.6C3075.9,434.1 3077.3,442.4 3078.0,451.0C3079.1,463.5 3074.8,481.4 3071.0,498.0C3066.6,517.4 3062.8,540.6 3052.0,560.0C3040.1,581.5 3018.3,601.4 3000.0,620.0C2982.2,638.1 2962.7,653.6 2944.0,670.5"/>
<path d="M728.0,463.0C730.3,488.7 722.2,518.8 735.0,540.0C749.6,564.2 789.8,583.2 820.0,595.0C848.9,606.3 881.3,605.5 911.9,610.7"/>
<path d="M803.4,457.0C852.3,460.2 886.6,463.4 950.0,466.5C1067.1,472.2 1304.5,477.7 1450.0,483.0C1562.7,487.1 1660.1,490.3 1750.0,495.0C1823.4,498.9 1895.8,501.7 1950.0,508.0C1987.5,512.3 2013.1,518.5 2044.7,523.8"/>
<path d="M742.0,463.0C749.7,488.7 754.0,515.2 765.0,540.0C776.4,565.9 790.6,594.6 810.0,615.0C829.1,635.1 848.3,651.1 880.0,662.0C931.3,679.7 1029.5,673.3 1100.0,678.0C1165.1,682.3 1225.3,685.5 1288.0,689.2"/>
</g>
<g fill="#63b8ff" stroke="#63b8ff" stroke-width="1.3">
<path d="M3217.5,78.5L3203.2,80.3L3205.5,70.6Z"/>
<path d="M3261.0,166.7L3246.7,165.2L3251.1,156.2Z"/>
<path d="M3186.0,254.3L3173.0,248.1L3180.2,241.1Z"/>
<path d="M3011.0,342.7L3002.7,330.9L3012.4,328.4Z"/>
<path d="M2445.7,349.7L2447.8,335.5L2456.6,340.3Z"/>
<path d="M3458.0,261.9L3451.7,248.9L3461.7,248.0Z"/>
<path d="M3706.0,261.9L3692.7,256.3L3699.6,249.0Z"/>
<path d="M3954.0,166.7L3939.6,166.9L3942.9,157.5Z"/>
<path d="M4314.0,349.7L4308.5,336.4L4318.5,336.0Z"/>
<path d="M395.9,686.0L381.6,687.7L384.0,677.9Z"/>
<path d="M2879.2,687.1L2865.4,691.1L2866.1,681.1Z"/>
<path d="M722.6,437.5L721.2,423.2L730.8,425.7Z"/>
<path d="M986.0,606.6L978.0,594.6L987.8,592.3Z"/>
<path d="M1279.5,611.0L1266.5,604.8L1273.7,597.8Z"/>
<path d="M1486.0,254.3L1486.6,239.9L1495.8,243.8Z"/>
<path d="M1548.0,349.7L1552.9,336.2L1560.5,342.6Z"/>
<path d="M1775.4,685.0L1761.0,685.0L1764.4,675.7Z"/>
<path d="M3621.0,616.0L3634.0,609.8L3634.9,619.8Z"/>
<path d="M2703.0,617.7L2716.4,612.5L2716.6,622.5Z"/>
<path d="M2958.0,689.5L2971.5,684.4L2971.5,694.4Z"/>
<path d="M3298.8,166.7L3293.8,153.2L3303.8,153.2Z"/>
<path d="M3959.0,254.3L3945.3,250.0L3951.4,242.1Z"/>
<path d="M2958.0,689.5L2971.3,684.1L2971.6,694.1Z"/>
<path d="M2250.7,606.6L2246.9,592.7L2256.8,593.6Z"/>
<path d="M3226.6,254.3L3232.7,241.2L3239.7,248.3Z"/>
<path d="M4006.0,254.3L4003.0,240.2L4012.9,241.7Z"/>
<path d="M2734.3,265.8L2747.5,260.0L2748.1,270.0Z"/>
<path d="M1093.7,606.6L1081.1,599.6L1088.7,593.1Z"/>
<path d="M2958.0,689.5L2971.4,684.2L2971.6,694.2Z"/>
<path d="M1514.8,349.7L1505.6,338.6L1515.1,335.3Z"/>
<path d="M1099.0,437.8L1109.0,427.4L1113.3,436.4Z"/>
<path d="M1188.5,437.8L1197.8,426.8L1202.7,435.5Z"/>
<path d="M1128.0,606.6L1114.6,601.2L1121.4,593.8Z"/>
<path d="M1103.0,437.8L1115.3,430.4L1117.2,440.2Z"/>
<path d="M1200.0,437.8L1211.9,429.7L1214.3,439.4Z"/>
<path d="M1326.0,437.8L1336.8,428.3L1340.4,437.6Z"/>
<path d="M1466.0,430.7L1470.9,417.2L1478.5,423.6Z"/>
<path d="M937.8,533.0L950.6,526.3L951.8,536.2Z"/>
<path d="M2357.0,437.5L2346.5,427.7L2355.4,423.2Z"/>
<path d="M2468.6,349.7L2478.6,339.4L2482.9,348.4Z"/>
<path d="M2385.0,437.8L2388.6,423.8L2396.8,429.5Z"/>
<path d="M2423.6,437.8L2432.5,426.5L2437.7,435.0Z"/>
<path d="M2478.0,525.8L2481.3,511.8L2489.6,517.3Z"/>
<path d="M2438.7,437.8L2449.8,428.6L2453.1,438.1Z"/>
<path d="M2449.7,438.0L2462.8,431.9L2463.6,441.9Z"/>
<path d="M2122.4,440.5L2135.5,434.5L2136.2,444.5Z"/>
<path d="M2298.8,445.0L2284.5,446.5L2287.0,436.8Z"/>
<path d="M1632.2,352.0L1645.2,345.9L1646.1,355.9Z"/>
<path d="M909.9,689.0L895.9,692.5L897.0,682.6Z"/>
<path d="M2879.2,686.4L2864.8,686.2L2868.4,676.8Z"/>
<path d="M3482.3,612.0L3468.2,614.7L3469.8,604.8Z"/>
<path d="M1831.5,530.0L1817.2,528.6L1821.5,519.6Z"/>
<path d="M2898.0,342.5L2910.1,334.7L2912.3,344.4Z"/>
<path d="M3031.0,430.7L3041.3,420.7L3045.4,429.8Z"/>
<path d="M2958.0,688.0L2971.0,681.8L2971.9,691.8Z"/>
<path d="M3458.7,349.7L3453.7,336.2L3463.7,336.2Z"/>
<path d="M3109.2,349.5L3122.0,343.0L3123.2,352.9Z"/>
<path d="M3374.2,353.6L3360.2,357.0L3361.4,347.1Z"/>
<path d="M3433.0,349.7L3419.3,345.3L3425.5,337.4Z"/>
<path d="M2958.0,687.0L2971.1,681.0L2971.8,691.0Z"/>
<path d="M2958.0,687.0L2968.7,677.4L2972.4,686.6Z"/>
<path d="M2757.0,430.7L2768.8,422.4L2771.3,432.1Z"/>
<path d="M3553.0,606.6L3546.7,593.7L3556.6,592.7Z"/>
<path d="M3560.0,606.6L3557.1,592.5L3567.0,594.0Z"/>
<path d="M3580.0,606.6L3584.7,593.0L3592.4,599.4Z"/>
<path d="M3605.4,606.6L3615.2,596.1L3619.7,605.0Z"/>
<path d="M3615.8,606.6L3626.4,596.8L3630.2,606.1Z"/>
<path d="M2958.0,689.5L2971.3,684.0L2971.7,694.0Z"/>
<path d="M2958.0,689.5L2971.4,684.1L2971.6,694.1Z"/>
<path d="M2958.0,689.5L2971.4,684.2L2971.6,694.2Z"/>
<path d="M3620.0,606.6L3630.6,596.9L3634.4,606.1Z"/>
<path d="M3621.0,613.0L3633.6,606.0L3635.1,615.9Z"/>
<path d="M2958.0,689.5L2971.4,684.3L2971.6,694.3Z"/>
<path d="M4448.0,525.8L4442.4,512.5L4452.4,512.1Z"/>
<path d="M4626.0,525.8L4611.8,523.6L4616.7,514.8Z"/>
<path d="M2958.0,689.5L2971.4,684.3L2971.6,694.3Z"/>
<path d="M3621.0,618.0L3634.3,612.5L3634.7,622.5Z"/>
<path d="M2958.0,689.5L2971.4,684.3L2971.6,694.3Z"/>
<path d="M1880.0,525.8L1869.2,516.3L1878.0,511.5Z"/>
<path d="M2337.8,612.0L2350.3,604.9L2351.9,614.7Z"/>
<path d="M3551.5,680.0L3546.5,666.5L3556.5,666.5Z"/>
<path d="M1925.0,525.8L1932.2,513.3L1938.6,521.1Z"/>
<path d="M2376.6,532.0L2362.3,534.0L2364.5,524.2Z"/>
<path d="M2879.2,688.0L2865.1,690.9L2866.6,681.0Z"/>
<path d="M3482.3,612.0L3468.4,615.8L3469.3,605.8Z"/>
<path d="M1978.5,525.8L1990.7,518.1L1992.7,527.9Z"/>
<path d="M1990.0,526.0L2002.5,518.9L2004.1,528.8Z"/>
<path d="M1834.0,682.0L1840.4,669.1L1847.3,676.4Z"/>
<path d="M2653.7,606.6L2645.3,594.9L2655.0,592.3Z"/>
<path d="M3482.3,610.0L3468.4,613.8L3469.3,603.8Z"/>
<path d="M2879.2,687.0L2865.2,690.3L2866.4,680.4Z"/>
<path d="M1985.0,526.0L1997.6,519.0L1999.1,528.8Z"/>
<path d="M2902.0,679.5L2888.0,676.2L2893.5,667.9Z"/>
<path d="M2536.0,525.8L2548.4,518.4L2550.2,528.3Z"/>
<path d="M1986.0,530.0L1999.0,523.9L1999.9,533.8Z"/>
<path d="M2915.5,679.5L2910.5,666.0L2920.5,666.0Z"/>
<path d="M3482.3,613.0L3467.9,613.2L3471.3,603.8Z"/>
<path d="M2235.0,606.6L2220.9,603.6L2226.3,595.1Z"/>
<path d="M2879.2,688.9L2865.4,692.9L2866.1,682.9Z"/>
<path d="M1785.0,606.6L1794.1,595.5L1799.2,604.1Z"/>
<path d="M1820.0,679.5L1828.8,668.1L1834.1,676.6Z"/>
<path d="M2616.8,615.0L2602.6,617.1L2604.6,607.3Z"/>
<path d="M2879.2,688.3L2865.4,692.3L2866.1,682.3Z"/>
<path d="M3482.3,616.0L3468.5,620.2L3469.1,610.2Z"/>
<path d="M1834.0,682.0L1846.7,675.2L1848.1,685.1Z"/>
<path d="M2879.2,688.9L2865.4,692.9L2866.1,682.9Z"/>
<path d="M2879.2,689.4L2865.4,693.4L2866.1,683.4Z"/>
<path d="M2879.2,687.7L2865.4,691.7L2866.1,681.7Z"/>
<path d="M1680.0,525.8L1669.3,516.2L1678.1,511.5Z"/>
<path d="M395.9,686.0L381.5,686.2L384.8,676.8Z"/>
<path d="M545.0,687.0L530.8,689.6L532.5,679.8Z"/>
<path d="M427.0,606.6L412.6,606.8L416.0,597.4Z"/>
<path d="M615.8,614.0L601.8,617.4L603.0,607.5Z"/>
<path d="M549.7,518.5L560.3,508.8L564.1,518.0Z"/>
<path d="M829.4,525.8L815.4,522.5L820.9,514.2Z"/>
<path d="M917.0,679.5L902.8,677.0L907.9,668.3Z"/>
<path d="M1087.7,612.0L1073.9,616.2L1074.5,606.2Z"/>
<path d="M1317.2,532.5L1303.0,534.8L1304.9,525.0Z"/>
<path d="M1831.5,534.0L1817.2,535.5L1819.7,525.8Z"/>
<path d="M1722.8,606.6L1709.5,601.2L1716.2,593.8Z"/>
<path d="M1776.0,684.0L1761.6,683.1L1765.7,673.9Z"/>
<path d="M3482.3,609.0L3468.4,612.6L3469.4,602.7Z"/>
<path d="M2879.2,687.1L2864.9,688.5L2867.4,678.8Z"/>
<path d="M1745.0,606.6L1732.0,600.4L1739.2,593.4Z"/>
<path d="M1463.3,528.0L1475.0,519.6L1477.6,529.2Z"/>
<path d="M1064.0,612.0L1077.0,605.7L1077.9,615.7Z"/>
<path d="M1154.5,614.0L1165.6,604.8L1168.9,614.3Z"/>
<path d="M1769.0,682.0L1754.7,683.7L1757.1,673.9Z"/>
<path d="M1691.5,606.6L1677.3,608.9L1679.2,599.1Z"/>
<path d="M972.4,684.0L982.0,673.3L986.7,682.1Z"/>
<path d="M1363.4,679.5L1358.4,666.0L1368.4,666.0Z"/>
<path d="M1448.0,612.0L1460.6,604.9L1462.1,614.8Z"/>
<path d="M1425.8,690.0L1439.0,684.1L1439.6,694.1Z"/>
<path d="M1154.5,616.0L1166.1,607.5L1168.9,617.2Z"/>
<path d="M1064.0,608.0L1075.7,599.6L1078.3,609.2Z"/>
<path d="M799.8,616.0L812.0,608.4L814.0,618.2Z"/>
<path d="M972.4,684.0L979.3,671.4L985.9,678.9Z"/>
<path d="M1834.1,682.0L1834.2,667.6L1843.6,671.1Z"/>
<path d="M955.0,679.5L960.7,666.3L967.9,673.2Z"/>
<path d="M473.3,683.0L485.0,674.7L487.6,684.3Z"/>
<path d="M605.3,679.5L614.5,668.4L619.5,677.0Z"/>
<path d="M2879.2,687.7L2865.4,691.7L2866.1,681.7Z"/>
<path d="M2879.2,688.3L2865.4,692.3L2866.1,682.3Z"/>
<path d="M1775.4,690.0L1761.1,691.7L1763.4,682.0Z"/>
<path d="M473.3,687.0L485.5,679.4L487.5,689.2Z"/>
<path d="M590.0,679.5L598.6,668.0L604.0,676.3Z"/>
<path d="M1861.5,525.8L1847.5,522.5L1853.0,514.2Z"/>
<path d="M1870.5,525.8L1856.6,522.1L1862.4,513.9Z"/>
<path d="M1892.8,525.8L1884.5,514.0L1894.2,511.5Z"/>
<path d="M1897.0,525.8L1889.2,513.7L1898.9,511.5Z"/>
<path d="M2449.7,439.0L2462.8,433.1L2463.5,443.0Z"/>
<path d="M2947.0,679.5L2956.4,668.6L2961.2,677.4Z"/>
<path d="M3508.8,606.6L3498.6,596.5L3507.6,592.2Z"/>
<path d="M3527.7,606.6L3516.5,597.6L3525.1,592.4Z"/>
<path d="M3910.7,259.8L3896.7,263.2L3897.9,253.2Z"/>
<path d="M2958.0,689.5L2971.3,683.9L2971.7,693.9Z"/>
<path d="M421.0,679.5L411.2,668.9L420.5,665.1Z"/>
<path d="M454.6,679.5L464.7,669.3L468.9,678.3Z"/>
<path d="M579.5,679.5L575.8,665.6L585.7,666.5Z"/>
<path d="M490.1,613.0L503.0,606.6L504.1,616.5Z"/>
<path d="M1154.5,612.0L1163.2,600.6L1168.6,609.0Z"/>
<path d="M1064.0,606.6L1068.3,592.9L1076.2,599.0Z"/>
<path d="M2934.0,679.5L2940.7,666.7L2947.4,674.2Z"/>
<path d="M925.2,613.0L911.1,615.7L912.7,605.8Z"/>
<path d="M2058.0,526.0L2043.9,528.7L2045.5,518.8Z"/>
<path d="M1301.5,690.0L1287.7,694.2L1288.3,684.2Z"/>
</g>
<rect x="2876.2" y="5.2" width="175.4" height="25.3" fill="#999999" stroke="#666666" stroke-width="1.3"/>
<text x="2963.9" y="20.8" text-anchor="middle" textLength="153.4" lengthAdjust="spacingAndGlyphs">pxr/exec/vdf/testUtils.h</text>
<rect x="3206.9" y="78.5" width="183.0" height="40.1" fill="#fff0f0" stroke="#ff0000" stroke-width="1.3"/>
<text x="3298.4" y="94.0" text-anchor="middle" textLength="162.5" lengthAdjust="spacingAndGlyphs">pxr/exec/vdf/speculation</text>
<text x="3298.4" y="108.5" text-anchor="middle" textLength="69.2" lengthAdjust="spacingAndGlyphs">Executor.h</text>
<rect x="3207.1" y="166.7" width="182.6" height="39.6" fill="#fff0f0" stroke="#ff0000" stroke-width="1.3"/>
<text x="3298.4" y="182.0" text-anchor="middle" textLength="162.5" lengthAdjust="spacingAndGlyphs">pxr/exec/vdf/speculation</text>
<text x="3298.4" y="196.5" text-anchor="middle" textLength="115.8" lengthAdjust="spacingAndGlyphs">ExecutorEngine.h</text>
<rect x="3900.0" y="166.7" width="231.8" height="39.6" fill="#ffffff" stroke="#666666" stroke-width="1.3"/>
<text x="4015.9" y="182.0" text-anchor="middle" textLength="213.3" lengthAdjust="spacingAndGlyphs">pxr/exec/vdf/parallelSpeculation</text>
<text x="4015.9" y="196.5" text-anchor="middle" textLength="115.8" lengthAdjust="spacingAndGlyphs">ExecutorEngine.h</text>
<rect x="1376.5" y="254.3" width="204.0" height="40.2" fill="#ffffff" stroke="#666666" stroke-width="1.3"/>
<text x="1478.5" y="269.9" text-anchor="middle" textLength="184.6" lengthAdjust="spacingAndGlyphs">pxr/exec/vdf/executionStats</text>
<text x="1478.5" y="284.4" text-anchor="middle" textLength="74.6" lengthAdjust="spacingAndGlyphs">Processor.h</text>
<rect x="2521.0" y="254.3" width="213.3" height="40.2" fill="#fff0f0" stroke="#ff0000" stroke-width="1.3"/>
<text x="2627.7" y="269.9" text-anchor="middle" textLength="193.9" lengthAdjust="spacingAndGlyphs">pxr/exec/vdf/parallelExecutor</text>
<text x="2627.7" y="284.4" text-anchor="middle" textLength="89.7" lengthAdjust="spacingAndGlyphs">EngineBase.h</text>
<rect x="3107.7" y="254.3" width="191.9" height="40.2" fill="#ffffff" stroke="#666666" stroke-width="1.3"/>
<text x="3203.6" y="269.9" text-anchor="middle" textLength="174.1" lengthAdjust="spacingAndGlyphs">pxr/exec/vdf/dataManager</text>
<text x="3203.6" y="284.4" text-anchor="middle" textLength="53.0" lengthAdjust="spacingAndGlyphs">Vector.h</text>
<rect x="3375.3" y="261.8" width="166.3" height="25.3" fill="#ffffff" stroke="#666666" stroke-width="1.3"/>
<text x="3458.4" y="277.3" text-anchor="middle" textLength="146.9" lengthAdjust="spacingAndGlyphs">pxr/exec/vdf/iterator.h</text>
<rect x="3617.0" y="261.8" width="218.8" height="25.3" fill="#fff0f0" stroke="#ff0000" stroke-width="1.3"/>
<text x="3726.4" y="277.3" text-anchor="middle" textLength="199.7" lengthAdjust="spacingAndGlyphs">pxr/exec/vdf/simpleExecutor.h</text>
<rect x="3911.0" y="254.3" width="183.0" height="40.2" fill="#fff0f0" stroke="#ff0000" stroke-width="1.3"/>
<text x="4002.5" y="269.9" text-anchor="middle" textLength="162.5" lengthAdjust="spacingAndGlyphs">pxr/exec/vdf/speculation</text>
<text x="4002.5" y="284.4" text-anchor="middle" textLength="102.7" lengthAdjust="spacingAndGlyphs">ExecutorBase.h</text>
<rect x="1415.8" y="349.9" width="216.4" height="25.3" fill="#ffffff" stroke="#666666" stroke-width="1.3"/>
<text x="1524.0" y="365.5" text-anchor="middle" textLength="197.2" lengthAdjust="spacingAndGlyphs">pxr/exec/vdf/executionStats.h</text>
<rect x="2349.3" y="349.9" width="178.0" height="25.3" fill="#fff0f0" stroke="#ff0000" stroke-width="1.3"/>
<text x="2438.3" y="365.5" text-anchor="middle" textLength="158.2" lengthAdjust="spacingAndGlyphs">pxr/exec/vdf/schedule.h</text>
<rect x="2704.0" y="342.7" width="194.3" height="39.7" fill="#fff0f0" stroke="#ff0000" stroke-width="1.3"/>
<text x="2801.2" y="358.0" text-anchor="middle" textLength="175.8" lengthAdjust="spacingAndGlyphs">pxr/exec/vdf/executorData</text>
<text x="2801.2" y="372.5" text-anchor="middle" textLength="68.9" lengthAdjust="spacingAndGlyphs">Manager.h</text>
<rect x="2922.4" y="342.7" width="186.8" height="39.7" fill="#ffffff" stroke="#666666" stroke-width="1.3"/>
<text x="3015.8" y="358.0" text-anchor="middle" textLength="167.1" lengthAdjust="spacingAndGlyphs">pxr/exec/vdf/parallelData</text>
<text x="3015.8" y="372.5" text-anchor="middle" textLength="111.1" lengthAdjust="spacingAndGlyphs">ManagerVector.h</text>
<rect x="3374.2" y="349.9" width="168.6" height="25.3" fill="#fff0f0" stroke="#ff0000" stroke-width="1.3"/>
<text x="3458.5" y="365.5" text-anchor="middle" textLength="148.8" lengthAdjust="spacingAndGlyphs">pxr/exec/vdf/context.h</text>
<rect x="4219.7" y="349.9" width="192.3" height="25.3" fill="#ffffff" stroke="#666666" stroke-width="1.3"/>
<text x="4315.9" y="365.5" text-anchor="middle" textLength="173.9" lengthAdjust="spacingAndGlyphs">pxr/exec/vdf/inputVector.h</text>
<rect x="630.9" y="438.0" width="172.5" height="25.3" fill="#ffffff" stroke="#666666" stroke-width="1.3"/>
<text x="717.1" y="453.6" text-anchor="middle" textLength="152.6" lengthAdjust="spacingAndGlyphs">pxr/exec/vdf/network.h</text>
<rect x="1030.3" y="438.0" width="75.0" height="25.3" fill="#e0e0e0" stroke="#999999" stroke-width="1.3"/>
<text x="1067.8" y="453.6" text-anchor="middle" textLength="53.1" lengthAdjust="spacingAndGlyphs">optional</text>
<rect x="1129.0" y="438.0" width="64.5" height="25.3" fill="#e0e0e0" stroke="#999999" stroke-width="1.3"/>
<text x="1161.2" y="453.6" text-anchor="middle" textLength="42.8" lengthAdjust="spacingAndGlyphs">thread</text>
<rect x="1268.0" y="438.0" width="63.4" height="25.3" fill="#e0e0e0" stroke="#999999" stroke-width="1.3"/>
<text x="1299.7" y="453.6" text-anchor="middle" textLength="40.9" lengthAdjust="spacingAndGlyphs">deque</text>
<rect x="1355.3" y="430.7" width="174.7" height="39.8" fill="#e0e0e0" stroke="#999999" stroke-width="1.3"/>
<text x="1442.7" y="446.1" text-anchor="middle" textLength="155.8" lengthAdjust="spacingAndGlyphs">tbb/enumerable_thread</text>
<text x="1442.7" y="460.6" text-anchor="middle" textLength="68.7" lengthAdjust="spacingAndGlyphs">_specific.h</text>
<rect x="1909.0" y="430.7" width="213.4" height="39.8" fill="#fff0f0" stroke="#ff0000" stroke-width="1.3"/>
<text x="2015.7" y="446.1" text-anchor="middle" textLength="193.9" lengthAdjust="spacingAndGlyphs">pxr/exec/vdf/parallelExecutor</text>
<text x="2015.7" y="460.6" text-anchor="middle" textLength="84.7" lengthAdjust="spacingAndGlyphs">DataVector.h</text>
<rect x="2298.8" y="438.0" width="150.9" height="25.3" fill="#fff0f0" stroke="#ff0000" stroke-width="1.3"/>
<text x="2374.2" y="453.6" text-anchor="middle" textLength="131.9" lengthAdjust="spacingAndGlyphs">pxr/exec/vdf/node.h</text>
<rect x="2575.4" y="430.7" width="213.3" height="39.8" fill="#fff0f0" stroke="#ff0000" stroke-width="1.3"/>
<text x="2682.1" y="446.1" text-anchor="middle" textLength="193.9" lengthAdjust="spacingAndGlyphs">pxr/exec/vdf/parallelExecutor</text>
<text x="2682.1" y="460.6" text-anchor="middle" textLength="100.5" lengthAdjust="spacingAndGlyphs">DataManager.h</text>
<rect x="2863.7" y="430.7" width="194.7" height="39.8" fill="#fff0f0" stroke="#ff0000" stroke-width="1.3"/>
<text x="2961.1" y="446.1" text-anchor="middle" textLength="175.8" lengthAdjust="spacingAndGlyphs">pxr/exec/vdf/executorData</text>
<text x="2961.1" y="460.6" text-anchor="middle" textLength="53.0" lengthAdjust="spacingAndGlyphs">Vector.h</text>
<rect x="397.0" y="518.5" width="189.6" height="40.0" fill="#e0e0e0" stroke="#999999" stroke-width="1.3"/>
<text x="491.8" y="534.0" text-anchor="middle" textLength="172.5" lengthAdjust="spacingAndGlyphs">tbb/concurrent_unordered</text>
<text x="491.8" y="548.5" text-anchor="middle" textLength="48.1" lengthAdjust="spacingAndGlyphs">_map.h</text>
<rect x="763.4" y="525.9" width="174.4" height="25.3" fill="#e0e0e0" stroke="#999999" stroke-width="1.3"/>
<text x="850.6" y="541.5" text-anchor="middle" textLength="158.2" lengthAdjust="spacingAndGlyphs">tbb/concurrent_queue.h</text>
<rect x="1317.2" y="525.9" width="146.1" height="25.3" fill="#fff0f0" stroke="#ff0000" stroke-width="1.3"/>
<text x="1390.2" y="541.5" text-anchor="middle" textLength="125.6" lengthAdjust="spacingAndGlyphs">pxr/base/tf/token.h</text>
<rect x="1639.4" y="525.9" width="168.6" height="25.3" fill="#fff0f0" stroke="#ff0000" stroke-width="1.3"/>
<text x="1723.7" y="541.5" text-anchor="middle" textLength="149.9" lengthAdjust="spacingAndGlyphs">pxr/base/arch/timing.h</text>
<rect x="1831.5" y="525.9" width="154.5" height="25.3" fill="#fff0f0" stroke="#ff0000" stroke-width="1.3"/>
<text x="1908.8" y="541.5" text-anchor="middle" textLength="135.3" lengthAdjust="spacingAndGlyphs">pxr/exec/vdf/types.h</text>
<rect x="2061.2" y="525.9" width="138.8" height="25.3" fill="#fff0f0" stroke="#ff0000" stroke-width="1.3"/>
<text x="2130.6" y="541.5" text-anchor="middle" textLength="120.4" lengthAdjust="spacingAndGlyphs">pxr/base/tf/span.h</text>
<rect x="2376.6" y="525.9" width="174.5" height="25.3" fill="#e0e0e0" stroke="#999999" stroke-width="1.3"/>
<text x="2463.8" y="541.5" text-anchor="middle" textLength="157.5" lengthAdjust="spacingAndGlyphs">tbb/concurrent_vector.h</text>
<rect x="4349.5" y="525.9" width="196.2" height="25.3" fill="#fff0f0" stroke="#ff0000" stroke-width="1.3"/>
<text x="4447.6" y="541.5" text-anchor="middle" textLength="177.8" lengthAdjust="spacingAndGlyphs">pxr/exec/vdf/typedVector.h</text>
<rect x="4570.5" y="525.9" width="162.8" height="25.3" fill="#fff0f0" stroke="#ff0000" stroke-width="1.3"/>
<text x="4651.9" y="541.5" text-anchor="middle" textLength="142.8" lengthAdjust="spacingAndGlyphs">pxr/exec/vdf/tokens.h</text>
<rect x="424.6" y="606.8" width="65.5" height="25.3" fill="#e0e0e0" stroke="#999999" stroke-width="1.3"/>
<text x="457.4" y="622.4" text-anchor="middle" textLength="41.8" lengthAdjust="spacingAndGlyphs">iosfwd</text>
<rect x="615.8" y="606.8" width="184.0" height="25.3" fill="#fff0f0" stroke="#ff0000" stroke-width="1.3"/>
<text x="707.8" y="622.4" text-anchor="middle" textLength="164.8" lengthAdjust="spacingAndGlyphs">pxr/base/tf/smallVector.h</text>
<rect x="925.2" y="606.8" width="138.8" height="25.3" fill="#fff0f0" stroke="#ff0000" stroke-width="1.3"/>
<text x="994.6" y="622.4" text-anchor="middle" textLength="120.4" lengthAdjust="spacingAndGlyphs">pxr/base/tf/hash.h</text>
<rect x="1087.7" y="606.8" width="66.8" height="25.3" fill="#e0e0e0" stroke="#999999" stroke-width="1.3"/>
<text x="1121.1" y="622.4" text-anchor="middle" textLength="44.7" lengthAdjust="spacingAndGlyphs">atomic</text>
<rect x="1279.5" y="606.8" width="168.5" height="25.3" fill="#fff0f0" stroke="#ff0000" stroke-width="1.3"/>
<text x="1363.8" y="622.4" text-anchor="middle" textLength="149.8" lengthAdjust="spacingAndGlyphs">pxr/base/tf/hashmap.h</text>
<rect x="1675.0" y="606.8" width="159.2" height="25.3" fill="#fff0f0" stroke="#ff0000" stroke-width="1.3"/>
<text x="1754.6" y="622.4" text-anchor="middle" textLength="140.6" lengthAdjust="spacingAndGlyphs">pxr/base/tf/hashset.h</text>
<rect x="2163.4" y="606.8" width="174.4" height="25.3" fill="#fff0f0" stroke="#ff0000" stroke-width="1.3"/>
<text x="2250.6" y="622.4" text-anchor="middle" textLength="156.7" lengthAdjust="spacingAndGlyphs">pxr/base/tf/diagnostic.h</text>
<rect x="2616.8" y="606.8" width="86.2" height="25.3" fill="#e0e0e0" stroke="#999999" stroke-width="1.3"/>
<text x="2659.9" y="622.4" text-anchor="middle" textLength="65.3" lengthAdjust="spacingAndGlyphs">functional</text>
<rect x="3482.3" y="606.8" width="138.7" height="25.3" fill="#ffffff" stroke="#666666" stroke-width="1.3"/>
<text x="3551.7" y="622.4" text-anchor="middle" textLength="119.0" lengthAdjust="spacingAndGlyphs">pxr/exec/vdf/api.h</text>
<rect x="395.9" y="679.7" width="77.3" height="25.3" fill="#e0e0e0" stroke="#999999" stroke-width="1.3"/>
<text x="434.5" y="695.3" text-anchor="middle" textLength="54.8" lengthAdjust="spacingAndGlyphs">memory</text>
<rect x="545.0" y="679.7" width="66.9" height="25.3" fill="#e0e0e0" stroke="#999999" stroke-width="1.3"/>
<text x="578.5" y="695.3" text-anchor="middle" textLength="44.5" lengthAdjust="spacingAndGlyphs">cstdint</text>
<rect x="909.9" y="679.7" width="62.5" height="25.3" fill="#e0e0e0" stroke="#999999" stroke-width="1.3"/>
<text x="941.1" y="695.3" text-anchor="middle" textLength="41.4" lengthAdjust="spacingAndGlyphs">vector</text>
<rect x="1301.5" y="679.7" width="124.3" height="25.3" fill="#e0e0e0" stroke="#999999" stroke-width="1.3"/>
<text x="1363.7" y="695.3" text-anchor="middle" textLength="103.9" lengthAdjust="spacingAndGlyphs">unordered_map</text>
<rect x="1775.4" y="679.7" width="58.7" height="25.3" fill="#e0e0e0" stroke="#999999" stroke-width="1.3"/>
<text x="1804.8" y="695.3" text-anchor="middle" textLength="37.4" lengthAdjust="spacingAndGlyphs">string</text>
<rect x="2879.2" y="679.7" width="78.6" height="25.3" fill="#ffffff" stroke="#666666" stroke-width="1.3"/>
<text x="2918.5" y="695.3" text-anchor="middle" textLength="58.7" lengthAdjust="spacingAndGlyphs">pxr/pxr.h</text>
<rect x="3467.7" y="679.7" width="168.3" height="25.3" fill="#fff0f0" stroke="#ff0000" stroke-width="1.3"/>
<text x="3551.8" y="695.3" text-anchor="middle" textLength="150.6" lengthAdjust="spacingAndGlyphs">pxr/base/arch/export.h</text>
</svg></body></html>
